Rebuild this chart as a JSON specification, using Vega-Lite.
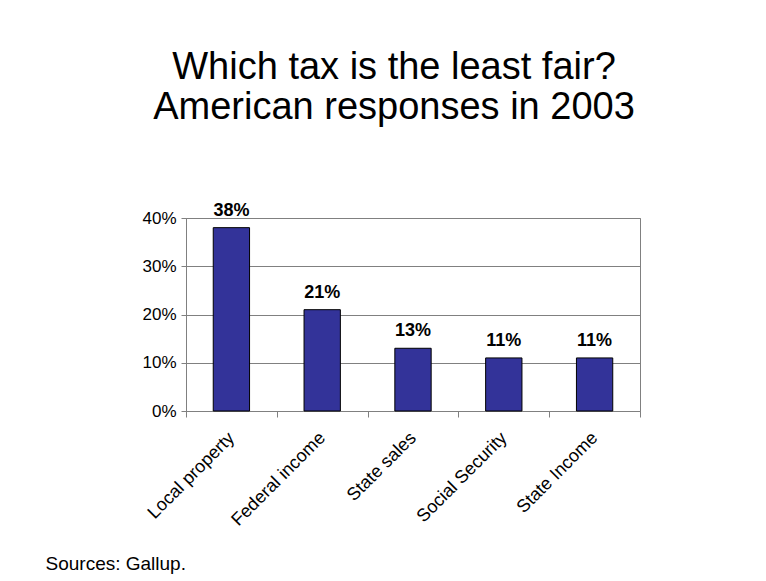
{
  "$schema": "https://vega.github.io/schema/vega-lite/v6.json",
  "autosize": "none",
  "width": 454,
  "height": 193,
  "padding": {"left": 186, "top": 218, "right": 126, "bottom": 170},
  "background": "white",
  "title": {
    "text": ["Which tax is the least fair?", "American responses in 2003"],
    "font": "Liberation Sans",
    "fontSize": 38,
    "fontWeight": "normal",
    "color": "black",
    "anchor": "middle",
    "frame": "group",
    "dx": -19,
    "baseline": "bottom",
    "lineHeight": 40,
    "offset": 37
  },
  "data": {
    "values": [
      {"tax": "Local property", "share": 0.38},
      {"tax": "Federal income", "share": 0.21},
      {"tax": "State sales", "share": 0.13},
      {"tax": "Social Security", "share": 0.11},
      {"tax": "State Income", "share": 0.11}
    ]
  },
  "encoding": {
    "x": {
      "field": "tax",
      "type": "nominal",
      "sort": null,
      "scale": {"paddingInner": 0, "paddingOuter": 0},
      "axis": {
        "title": "Sources: Gallup.",
        "titleFont": "Liberation Sans",
        "titleFontSize": 19,
        "titleFontWeight": "normal",
        "titleColor": "black",
        "titleAlign": "left",
        "titleBaseline": "alphabetic",
        "titleAngle": 0,
        "titleX": -141,
        "titleY": 158,
        "tickBand": "extent",
        "tickSize": 6,
        "tickColor": "#808080",
        "domainColor": "#808080",
        "labelAngle": -45,
        "labelAlign": "right",
        "labelBaseline": "middle",
        "labelPadding": 18,
        "labelFont": "Liberation Sans",
        "labelFontSize": 18,
        "labelColor": "black",
        "grid": false
      }
    },
    "y": {
      "field": "share",
      "type": "quantitative",
      "scale": {"domain": [0, 0.4]},
      "axis": {
        "title": null,
        "values": [0, 0.1, 0.2, 0.3, 0.4],
        "format": ".0%",
        "tickSize": 5,
        "tickColor": "#808080",
        "domainColor": "#808080",
        "gridColor": "#808080",
        "gridOpacity": 1,
        "labelFont": "Liberation Sans",
        "labelFontSize": 17,
        "labelColor": "black",
        "labelPadding": 5
      }
    }
  },
  "layer": [
    {
      "mark": {"type": "bar", "width": {"band": 0.4}, "fill": "#333399", "stroke": "black", "strokeWidth": 1}
    },
    {
      "mark": {"type": "text", "baseline": "bottom", "dy": -8, "font": "Liberation Sans", "fontSize": 18, "fontWeight": "bold", "color": "black"},
      "encoding": {"text": {"field": "share", "type": "quantitative", "format": ".0%"}}
    }
  ],
  "config": {
    "view": {"stroke": "#808080", "strokeWidth": 1}
  }
}
